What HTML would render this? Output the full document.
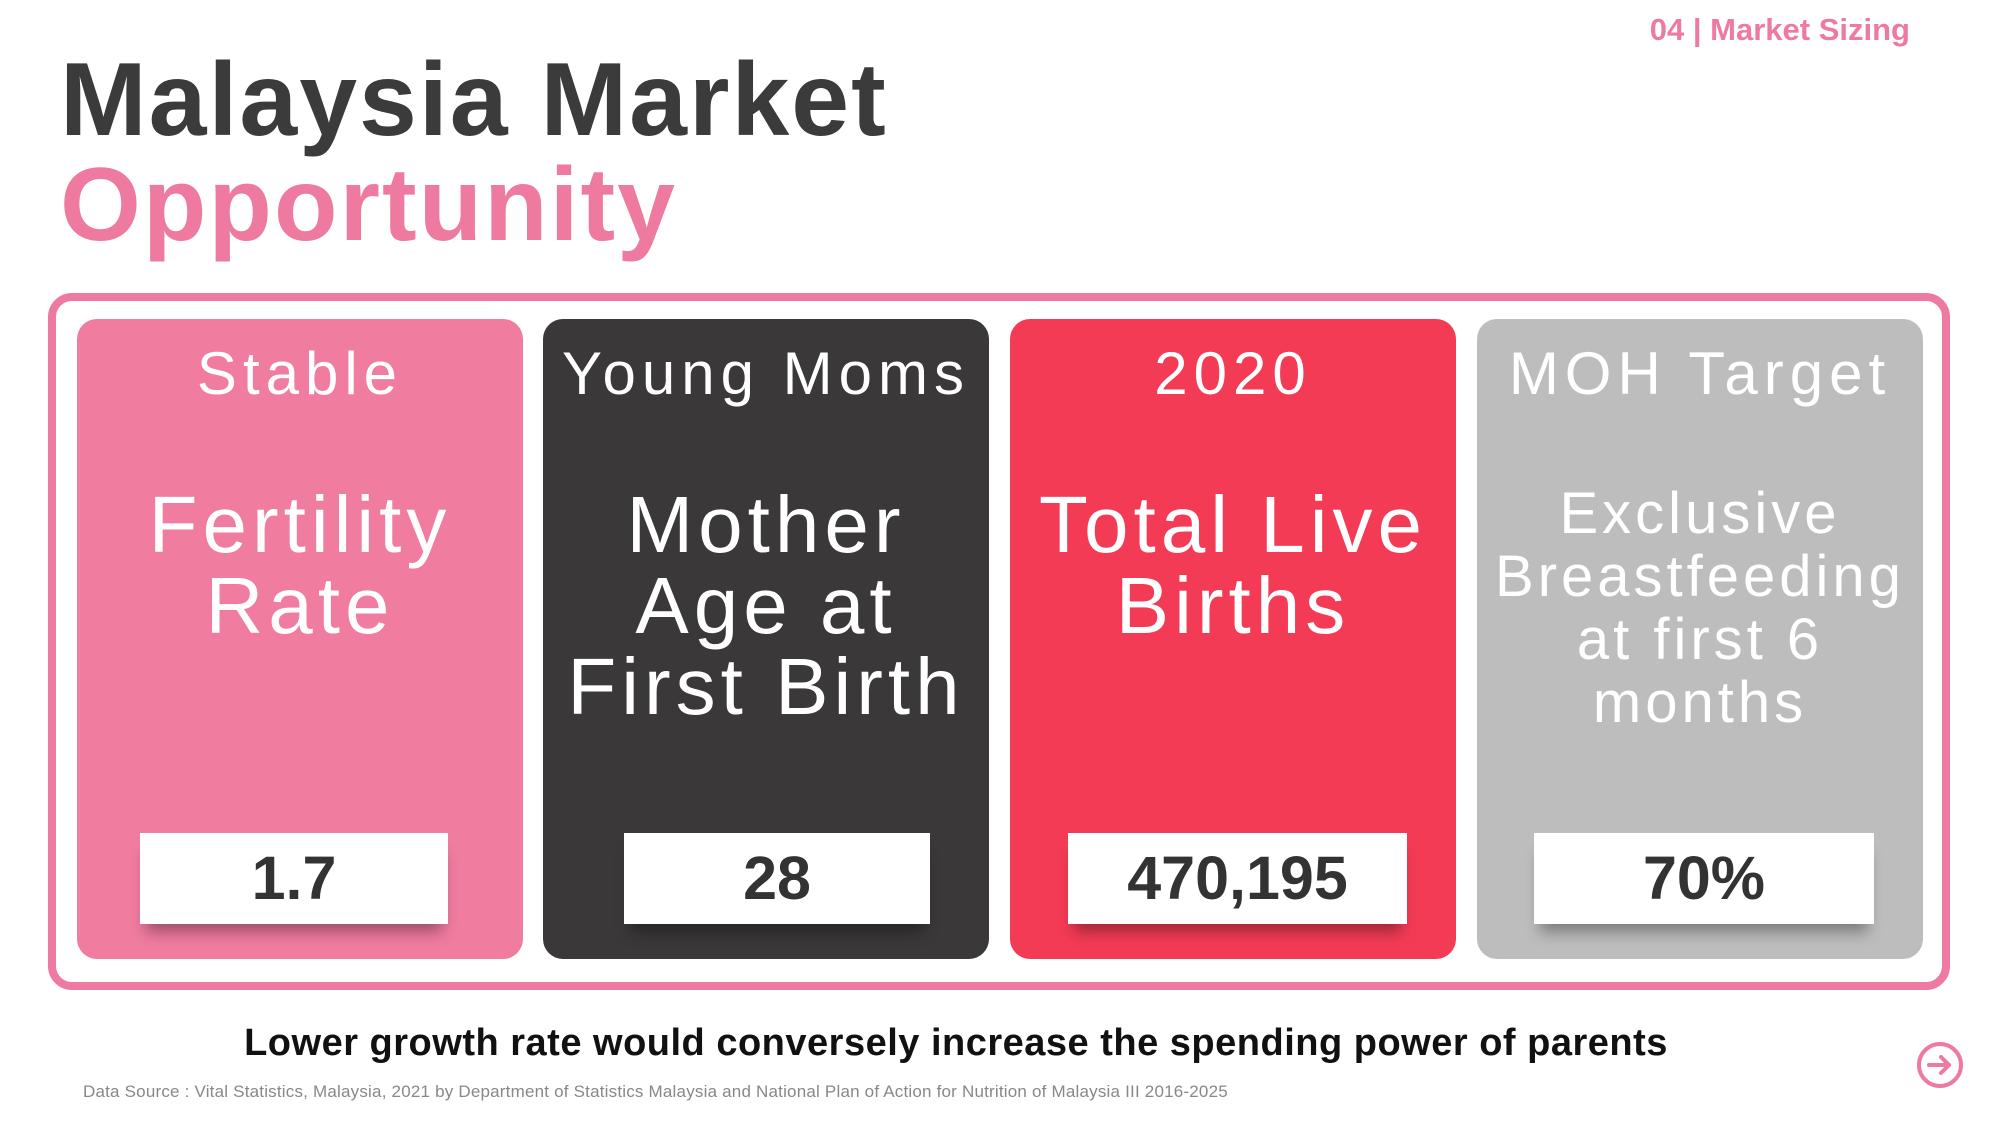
<!DOCTYPE html>
<html><head><meta charset="utf-8"><style>
*{margin:0;padding:0;box-sizing:border-box}
body{width:2000px;height:1125px;background:#fff;font-family:"Liberation Sans","DejaVu Sans",sans-serif;position:relative;overflow:hidden}
.abs{position:absolute}
.tag{left:1640px;top:12px;width:270px;text-align:right;font-size:31px;font-weight:bold;color:#ee7a9f}
.t1{left:60px;top:40px;font-size:104px;font-weight:bold;color:#3b3b3b;line-height:120px;letter-spacing:2px}
.t2{left:60px;top:145px;font-size:104px;font-weight:bold;color:#ee7a9f;line-height:120px;letter-spacing:2px}
.frame{left:48px;top:293px;width:1902px;height:697px;border:8px solid #ee7a9f;border-radius:24px}
.card{top:319px;width:446px;height:640px;border-radius:20px;color:#fff;text-align:center}
.hd{position:absolute;left:0;right:0;top:20px;font-size:60px;letter-spacing:6px;line-height:70px}
.mn{position:absolute;left:0;right:0;top:438px;font-size:80px;letter-spacing:5px;line-height:81px}
.val{position:absolute;top:514px;height:91px;background:#fff;color:#333;font-weight:bold;font-size:61px;line-height:91px;box-shadow:0 14px 14px -6px rgba(0,0,0,.35)}
.bot{left:0;width:1912px;top:1022px;text-align:center;font-size:38px;font-weight:bold;color:#111;letter-spacing:0.5px}
.src{left:83px;top:1082px;font-size:17px;color:#888;letter-spacing:0.2px}
</style></head><body>
<div class="abs tag">04 | Market Sizing</div>
<div class="abs t1">Malaysia Market</div>
<div class="abs t2">Opportunity</div>
<div class="abs frame"></div>

<div class="abs card" style="left:77px;background:#f07ca0">
<div class="hd">Stable</div>
<div class="mn" style="top:165px">Fertility<br>Rate</div>
<div class="val" style="left:63px;width:308px">1.7</div>
</div>

<div class="abs card" style="left:543px;background:#3a3839">
<div class="hd">Young Moms</div>
<div class="mn" style="top:165px">Mother<br>Age at<br>First Birth</div>
<div class="val" style="left:81px;width:306px">28</div>
</div>

<div class="abs card" style="left:1010px;background:#f43b56">
<div class="hd">2020</div>
<div class="mn" style="top:165px">Total Live<br>Births</div>
<div class="val" style="left:58px;width:339px">470,195</div>
</div>

<div class="abs card" style="left:1477px;background:#bdbdbd">
<div class="hd">MOH Target</div>
<div class="mn" style="top:163px;font-size:58px;line-height:63px;letter-spacing:4px">Exclusive<br>Breastfeeding<br>at first 6<br>months</div>
<div class="val" style="left:57px;width:340px">70%</div>
</div>

<div class="abs bot">Lower growth rate would conversely increase the spending power of parents</div>
<div class="abs src">Data Source : Vital Statistics, Malaysia, 2021 by Department of Statistics Malaysia and National Plan of Action for Nutrition of Malaysia III 2016-2025</div>
<svg class="abs" style="left:1916px;top:1041px" width="48" height="48" viewBox="0 0 48 48">
<circle cx="24" cy="24" r="21" fill="none" stroke="#ee7a9f" stroke-width="4"/>
<path d="M13 24h20M25 16l8 8-8 8" fill="none" stroke="#ee7a9f" stroke-width="4" stroke-linecap="round" stroke-linejoin="round"/>
</svg>
</body></html>
